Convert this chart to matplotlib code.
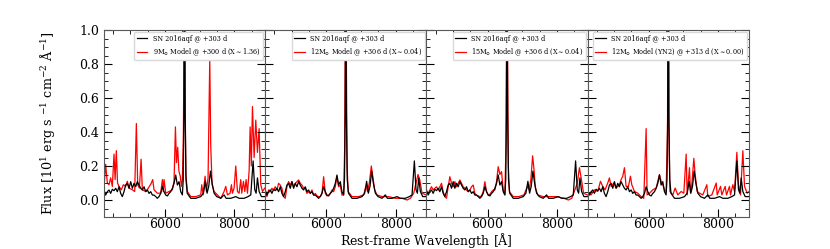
import matplotlib
matplotlib.use('Agg')
import matplotlib.pyplot as plt
from matplotlib.ticker import MultipleLocator

plt.rcParams['font.family'] = 'DejaVu Serif'
plt.rcParams['mathtext.fontset'] = 'dejavuserif'

# observed spectrum (same in every panel)
wave_obs = [4240, 4288, 4336, 4384, 4432, 4481, 4529, 4577, 4625, 4673, 4721, 4769, 4817, 4865,
            4913, 4962, 5010, 5058, 5106, 5154, 5202, 5250, 5298, 5346, 5394, 5443, 5491, 5539,
            5587, 5635, 5683, 5731, 5779, 5827, 5875, 5924, 5972, 6020, 6068, 6116, 6164, 6212,
            6260, 6308, 6356, 6404, 6452, 6500, 6525, 6545, 6563, 6580, 6605, 6640, 6741, 6886,
            7030, 7107, 7164, 7213, 7260, 7309, 7357, 7415, 7492, 7607, 7703, 7761, 7896, 8040,
            8136, 8280, 8396, 8473, 8540, 8588, 8627, 8665, 8713, 8780, 8877]
flux_obs = [0.059, 0.029, 0.049, 0.059, 0.039, 0.063, 0.055, 0.069, 0.049, 0.078, 0.039, 0.020,
            0.049, 0.088, 0.098, 0.069, 0.108, 0.069, 0.098, 0.078, 0.108, 0.088, 0.069, 0.059,
            0.078, 0.049, 0.059, 0.039, 0.049, 0.029, 0.029, 0.020, 0.010, 0.020, 0.039, 0.078,
            0.049, 0.029, 0.024, 0.039, 0.049, 0.069, 0.098, 0.147, 0.088, 0.108, 0.049, 0.030,
            0.12, 0.50, 1.60, 0.50, 0.12, 0.04, 0.01, 0.01,
            0.02, 0.04, 0.11, 0.04, 0.08, 0.17, 0.10, 0.04, 0.02, 0.01, 0.03, 0.01, 0.01, 0.02,
            0.01, 0.01, 0.02, 0.03, 0.23, 0.06, 0.04, 0.13, 0.05, 0.02, 0.02]

# 9 Msun model
wave_m9 = [4240, 4288, 4336, 4384, 4432, 4480, 4529, 4560, 4596, 4630, 4673, 4740, 4798, 4865,
           4913, 4962, 5058, 5125, 5173, 5212, 5260, 5310, 5346, 5443, 5520, 5606, 5645, 5683,
           5779, 5875, 5924, 5950, 5972, 6020, 6116, 6212, 6260, 6300, 6330, 6365, 6400, 6440,
           6470, 6500, 6530, 6550, 6565, 6580, 6600, 6645, 6741, 6886, 7030, 7059, 7097, 7155,
           7193, 7241, 7290, 7318, 7357, 7415, 7511, 7607, 7703, 7751, 7800, 7877, 7915, 7944,
           7992, 8040, 8088, 8136, 8184, 8213, 8261, 8300, 8338, 8377, 8425, 8454, 8488, 8521,
           8569, 8617, 8665, 8713, 8761, 8810, 8877]
flux_m9 = [0.07, 0.21, 0.10, 0.09, 0.13, 0.08, 0.27, 0.12, 0.29, 0.10, 0.08, 0.06, 0.09, 0.08,
           0.11, 0.07, 0.06, 0.05, 0.45, 0.09, 0.07, 0.24, 0.06, 0.05, 0.07, 0.10, 0.12, 0.06,
           0.04, 0.04, 0.12, 0.05, 0.12, 0.04, 0.05, 0.06, 0.11, 0.43, 0.22, 0.31, 0.17, 0.14,
           0.08, 0.12, 0.40, 1.00, 1.50, 0.60, 0.15, 0.05, 0.02, 0.02, 0.03, 0.09, 0.03, 0.14,
           0.05, 0.13, 0.83, 0.32, 0.09, 0.05, 0.03, 0.01, 0.05, 0.08, 0.03, 0.04, 0.09, 0.04,
           0.07, 0.20, 0.05, 0.04, 0.12, 0.04, 0.11, 0.05, 0.12, 0.04, 0.17, 0.43, 0.20, 0.55,
           0.25, 0.47, 0.28, 0.42, 0.09, 0.05, 0.07]

# 12 Msun model
wave_m12 = [4240, 4288, 4336, 4384, 4432, 4481, 4529, 4577, 4625, 4673, 4721, 4769, 4817, 4865,
            4913, 4962, 5010, 5058, 5106, 5154, 5202, 5250, 5298, 5346, 5394, 5443, 5491, 5539,
            5587, 5635, 5683, 5731, 5779, 5827, 5875, 5924, 5972, 6020, 6068, 6116, 6164, 6212,
            6260, 6308, 6356, 6404, 6452, 6500, 6530, 6550, 6565, 6580, 6600, 6630, 6741,
            6934, 7078, 7145, 7193, 7241, 7299, 7347, 7395, 7463, 7607, 7799, 7992, 8184, 8328,
            8425, 8521, 8588, 8646, 8694, 8761, 8877]
flux_m12 = [0.049, 0.020, 0.059, 0.049, 0.069, 0.059, 0.078, 0.059, 0.098, 0.088, 0.069, 0.020,
            0.010, 0.078, 0.108, 0.088, 0.108, 0.078, 0.098, 0.108, 0.118, 0.098, 0.088, 0.069,
            0.069, 0.039, 0.049, 0.039, 0.059, 0.029, 0.039, 0.024, 0.020, 0.020, 0.039, 0.137,
            0.039, 0.024, 0.029, 0.039, 0.059, 0.049, 0.078, 0.137, 0.078, 0.088, 0.029, 0.030,
            0.30, 1.00, 1.60, 0.80, 0.20, 0.05, 0.02,
            0.02, 0.03, 0.08, 0.05, 0.10, 0.20, 0.13, 0.06, 0.03, 0.02, 0.02, 0.01, 0.01, 0.00,
            0.01, 0.04, 0.10, 0.15, 0.12, 0.04, 0.03]

# 15 Msun model
wave_m15 = [4240, 4288, 4336, 4384, 4432, 4481, 4529, 4577, 4625, 4673, 4721, 4769, 4817, 4865,
            4913, 4962, 5010, 5058, 5106, 5154, 5202, 5250, 5298, 5346, 5394, 5443, 5491, 5539,
            5587, 5635, 5683, 5731, 5779, 5827, 5875, 5924, 5972, 6020, 6068, 6116, 6164, 6212,
            6260, 6308, 6356, 6404, 6452, 6500, 6530, 6550, 6565, 6580, 6600, 6630, 6740,
            6900, 7050, 7150, 7200, 7250, 7300, 7340, 7380, 7450, 7600, 7800, 8000, 8200, 8330,
            8430, 8520, 8590, 8650, 8700, 8770, 8880]
flux_m15 = [0.049, 0.039, 0.059, 0.078, 0.059, 0.069, 0.078, 0.059, 0.078, 0.098, 0.049, 0.020,
            0.010, 0.078, 0.137, 0.098, 0.078, 0.108, 0.078, 0.098, 0.118, 0.098, 0.078, 0.069,
            0.059, 0.049, 0.059, 0.078, 0.088, 0.039, 0.029, 0.024, 0.020, 0.024, 0.049, 0.108,
            0.049, 0.029, 0.033, 0.049, 0.059, 0.059, 0.108, 0.196, 0.150, 0.167, 0.059, 0.030,
            0.30, 1.00, 1.60, 0.80, 0.20, 0.05, 0.02,
            0.02, 0.03, 0.08, 0.06, 0.12, 0.26, 0.18, 0.07, 0.03, 0.02, 0.02, 0.02, 0.01, 0.00,
            0.01, 0.06, 0.10, 0.19, 0.13, 0.04, 0.03]

# 12 Msun (YN2) model
wave_yn2 = [4240, 4336, 4432, 4529, 4606, 4673, 4740, 4817, 4865, 4913, 4990, 5058, 5154, 5202,
            5250, 5298, 5346, 5414, 5471, 5510, 5587, 5683, 5779, 5856, 5924, 5952, 6020, 6116,
            6212, 6260, 6308, 6356, 6404, 6452, 6500, 6540, 6560, 6566, 6580, 6610, 6693, 6760,
            6837, 6934, 7011, 7078, 7107, 7174, 7203, 7241, 7299, 7338, 7395, 7463, 7559, 7674,
            7703, 7819, 7944, 7973, 8069, 8107, 8203, 8242, 8328, 8357, 8425, 8473, 8540, 8588,
            8646, 8713, 8761, 8838, 8890]
flux_yn2 = [0.04, 0.03, 0.06, 0.05, 0.11, 0.08, 0.06, 0.10, 0.13, 0.08, 0.10, 0.07, 0.09, 0.12,
            0.14, 0.19, 0.08, 0.08, 0.14, 0.09, 0.05, 0.04, 0.02, 0.01, 0.42, 0.03, 0.04, 0.06,
            0.07, 0.11, 0.15, 0.11, 0.09, 0.06, 0.05, 0.40, 1.60, 1.60, 0.40, 0.05, 0.03, 0.07,
            0.03, 0.05, 0.04, 0.27, 0.03, 0.19, 0.04, 0.09, 0.245, 0.15, 0.05, 0.04, 0.03, 0.09,
            0.02, 0.03, 0.10, 0.03, 0.08, 0.03, 0.08, 0.03, 0.08, 0.03, 0.09, 0.05, 0.28, 0.09,
            0.03, 0.29, 0.08, 0.04, 0.05]

models = [(wave_m9, flux_m9, r'9M$_{\odot}$ Model @ +300 d (X$\sim$1.36)'),
          (wave_m12, flux_m12, r'12M$_{\odot}$ Model @ +306 d (X$\sim$0.04)'),
          (wave_m15, flux_m15, r'15M$_{\odot}$ Model @ +306 d (X$\sim$0.04)'),
          (wave_yn2, flux_yn2, r'12M$_{\odot}$ Model (YN2) @ +313 d (X$\sim$0.00)')]

fig = plt.figure(figsize=(8.3, 2.49), dpi=100)
left, right, bottom, top = 0.1253, 0.9024, 0.1285, 0.8795
w = (right - left) / 4
for i, (wm, fm, lab) in enumerate(models):
    ax = fig.add_axes([left + i * w, bottom, w, top - bottom])
    lm, = ax.plot(wm, fm, color='red', lw=0.9, zorder=1)
    lo, = ax.plot(wave_obs, flux_obs, color='black', lw=0.9, zorder=2)
    ax.set_xlim(4240, 8890)
    ax.set_ylim(-0.1, 1.0)
    ax.xaxis.set_major_locator(MultipleLocator(2000))
    ax.xaxis.set_minor_locator(MultipleLocator(500))
    ax.yaxis.set_major_locator(MultipleLocator(0.2))
    ax.yaxis.set_minor_locator(MultipleLocator(0.05))
    ax.tick_params(which='both', direction='in', top=True, right=True, labelsize=9)
    ax.tick_params(axis='x', pad=1)
    ax.tick_params(which='major', length=6)
    ax.tick_params(which='minor', length=3)
    for s in ax.spines.values():
        s.set_color('0.35')
    if i > 0:
        ax.set_yticklabels([])
    else:
        ax.set_ylabel(r'Flux [10$^{1}$ erg s $^{-1}$ cm$^{-2}$ $\mathrm{\AA}^{-1}$]', fontsize=9.2)
        ax.yaxis.set_label_coords(-0.29, 0.5)
    ax.legend([lo, lm], ['SN 2016aqf @ +303 d', lab], loc='upper right', fontsize=4.7,
              handlelength=1.6, borderpad=0.4, labelspacing=0.55, framealpha=1, edgecolor='0.85',
              borderaxespad=0.3)

fig.text((left + right) / 2, 0.034, r'Rest-frame Wavelength [$\mathrm{\AA}$]', ha='center',
         va='center', fontsize=9)
fig.savefig('out.png', dpi=100)
